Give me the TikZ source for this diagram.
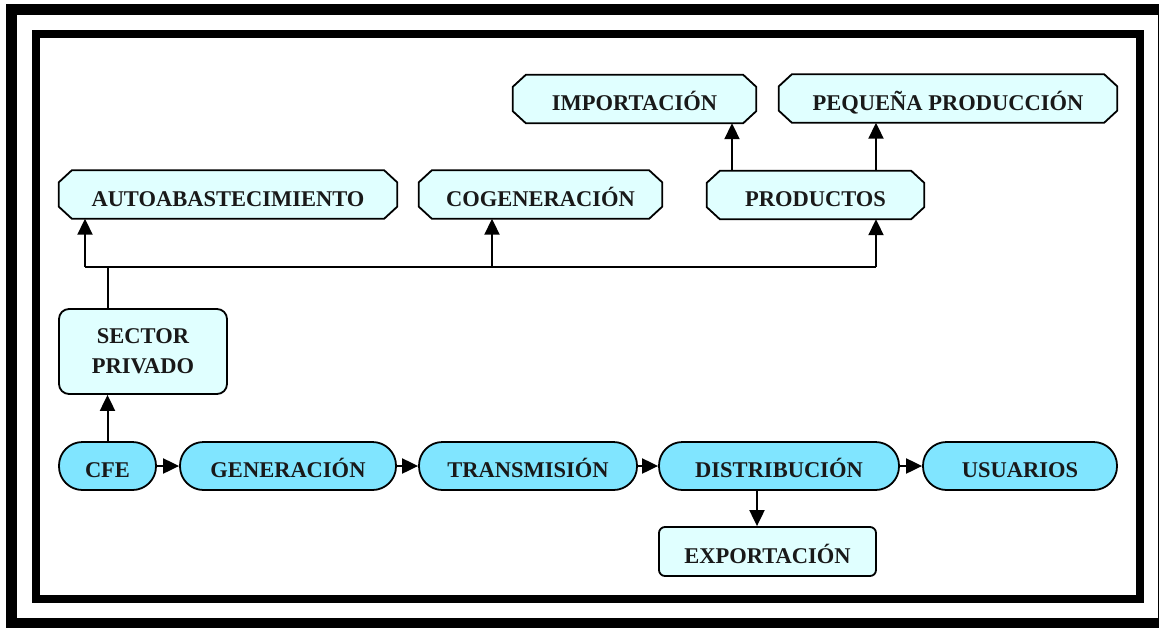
\documentclass[tikz,border=0pt]{standalone}
\usepackage{fontspec}
\setmainfont{Liberation Serif}
\usepackage{tikz}
\usetikzlibrary{arrows.meta}
\usetikzlibrary{backgrounds}
\definecolor{pale}{HTML}{E0FFFF}
\definecolor{sky}{HTML}{80E5FF}
\tikzset{octa/.style={rectangle, inner sep=0pt, minimum height=48pt, minimum width=#1, oneline},
%default width
octa/.default={240pt},
octline/.style={draw=black, line width=1.8pt, fill=pale},
pill/.style={rectangle, rounded corners=23.5pt, draw=black, line width=1.8pt, fill=sky,
  inner sep=0pt, minimum height=48pt, minimum width=#1, oneline},
boxy/.style={rectangle, rounded corners=#1, draw=black, line width=1.8pt, fill=pale, inner sep=0pt},
oneline/.style={text height=23pt, text depth=0pt},
lbl/.style={font=\fontsize{22.5}{30}\selectfont\bfseries, text=black!90},
arr/.style={line width=2pt, -{Triangle[length=16pt,width=15pt]}}}

\begin{document}
\begin{tikzpicture}[x=1pt,y=-1pt]
\useasboundingbox (0,0) rectangle (1159,627);
% frames
\draw[line width=11pt] (11,9.5) rectangle (1163,623);
\draw[line width=8pt] (35.5,34) rectangle (1140,599);

% top row
\node[octa=243pt,lbl] (imp) at (634.5,99) {IMPORTACIÓN};
\node[octa=338pt,lbl] (peq) at (948,98.5) {PEQUEÑA PRODUCCIÓN};
\node[octa=338pt,lbl] (auto) at (228,194.5) {AUTOABASTECIMIENTO};
\node[octa=243pt,lbl] (cogen) at (540.5,194.5) {COGENERACIÓN};
\node[octa=217pt,lbl] (prod) at (815.5,195) {PRODUCTOS};

% chamfered outlines behind the labels
\begin{scope}[on background layer]
\foreach \n in {imp,peq,auto,cogen,prod}
  \draw[octline] ([xshift=13pt]\n.north west) -- ([xshift=-13pt]\n.north east)
    -- ([yshift=-12pt]\n.north east) -- ([yshift=12pt]\n.south east)
    -- ([xshift=-13pt]\n.south east) -- ([xshift=13pt]\n.south west)
    -- ([yshift=12pt]\n.south west) -- ([yshift=-12pt]\n.north west) -- cycle;
\end{scope}

% middle
\node[boxy=10pt,lbl,minimum width=168pt,minimum height=85pt,align=center] (priv) at (143,351.5) {SECTOR\\PRIVADO};

% chain
\node[pill=97pt,lbl] (cfe) at (107.5,466) {CFE};
\node[pill=216pt,lbl] (gen) at (288,466) {GENERACIÓN};
\node[pill=218pt,lbl] (trans) at (528,466) {TRANSMISIÓN};
\node[pill=240pt,lbl] (dist) at (779,466) {DISTRIBUCIÓN};
\node[pill=194pt,lbl] (usu) at (1020,466) {USUARIOS};
\node[boxy=6pt,lbl,oneline,minimum width=217pt,minimum height=49pt] (exp) at (767.5,551.5) {EXPORTACIÓN};

% bus
\coordinate (busL) at (85,267);
\coordinate (busC) at (492,267);
\coordinate (busR) at (876,267);
\coordinate (up) at (732,0);
\coordinate (down) at (757,0);

\draw[line width=2pt] (busL) -- (busR);
\draw[line width=2pt] (cfe.north |- priv.north) -- (cfe.north |- busL);
\draw[arr] (busL) -- (busL |- auto.south);
\draw[arr] (busC) -- (busC |- cogen.south);
\draw[arr] (busR) -- (busR |- prod.south);
\draw[arr] (up |- prod.north) -- (up |- imp.south);
\draw[arr] (busR |- prod.north) -- (busR |- peq.south);

\draw[arr] (cfe.north) -- (cfe.north |- priv.south);
\draw[arr] (cfe) -- (gen);
\draw[arr] (gen) -- (trans);
\draw[arr] (trans) -- (dist);
\draw[arr] (dist) -- (usu);
\draw[arr] (down |- dist.south) -- (down |- exp.north);

\end{tikzpicture}
\end{document}
